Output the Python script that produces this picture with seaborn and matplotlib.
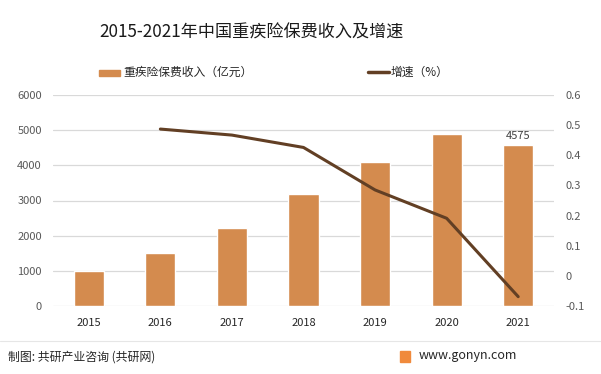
import numpy as np
import pandas as pd
import matplotlib.pyplot as plt
import seaborn as sns

years = ["2015", "2016", "2017", "2018", "2019", "2020", "2021"]
premium = [1000, 1510, 2220, 3190, 4100, 4900, 4575]
growth_years = ["2016", "2017", "2018", "2019", "2020", "2021"]
growth = [0.487, 0.467, 0.426, 0.285, 0.191, -0.069]

bar_color = "#D48B4E"
line_color = "#623F24"
tick_color = "#595959"

sns.set_theme(style="white")
plt.rcParams["font.family"] = ["Noto Sans CJK SC", "DejaVu Sans"]

fig = plt.figure(figsize=(6.01, 3.74), dpi=100)
ax = fig.add_axes([53 / 601, 1 - 306 / 374, 501 / 601, 211 / 374])

df = pd.DataFrame({"year": years, "premium": premium})
sns.barplot(data=df, x="year", y="premium", color=bar_color, width=0.42,
            saturation=1, ax=ax, zorder=2)
ax.set_xlim(-0.5, len(years) - 0.5)
ax.set_ylim(0, 6000)
ax.set_yticks(np.arange(0, 6001, 1000))
ax.yaxis.grid(True, color="#D9D9D9", linewidth=0.9, zorder=0)
ax.set_axisbelow(True)
ax.set_xlabel("")
ax.set_ylabel("")
for s in ax.spines.values():
    s.set_visible(False)
ax.tick_params(axis="y", colors=tick_color, labelsize=8, length=0, pad=8)
ax.tick_params(axis="x", colors="#262626", labelsize=8, length=0, pad=9)

ax.text(years.index("2021"), premium[-1] + 130, f"{premium[-1]}",
        ha="center", va="bottom", fontsize=8, color="#404040")

ax2 = ax.twinx()
gpos = [years.index(y) for y in growth_years]
sns.lineplot(x=gpos, y=growth, color=line_color, linewidth=2.2, ax=ax2)
ax2.set_ylim(-0.1, 0.6)
ax2.set_yticks(np.round(np.arange(-0.1, 0.61, 0.1), 1))
ax2.set_yticklabels(["-0.1", "0", "0.1", "0.2", "0.3", "0.4", "0.5", "0.6"])
ax2.tick_params(axis="y", colors=tick_color, labelsize=8, length=0, pad=8)
ax2.set_xlim(-0.5, len(years) - 0.5)
for s in ax2.spines.values():
    s.set_visible(False)

fig.text(251 / 601, 1 - 33 / 374, "2015-2021年中国重疾险保费收入及增速",
         ha="center", va="center", fontsize=12.3, color="#1A1A1A")

# legend
fig.patches.append(plt.Rectangle((99 / 601, 1 - 76 / 374), 21 / 601, 6 / 374,
                                 transform=fig.transFigure, color=bar_color))
fig.text(123 / 601, 1 - 72 / 374, "重疾险保费收入（亿元）", ha="left", va="center",
         fontsize=8.5, color="#262626")
fig.add_artist(plt.Line2D([368 / 601, 389 / 601], [1 - 72 / 374, 1 - 72 / 374],
                          color=line_color, linewidth=2.5, transform=fig.transFigure))
fig.text(391 / 601, 1 - 72 / 374, "增速（%）", ha="left", va="center",
         fontsize=8.5, color="#262626")

# footer
fig.add_artist(plt.Line2D([0, 1], [1 - 341 / 374, 1 - 341 / 374],
                          color="#E6E6E6", linewidth=0.8, transform=fig.transFigure))
fig.text(8 / 601, 1 - 357 / 374, "制图: 共研产业咨询 (共研网)", ha="left", va="center",
         fontsize=8.6, color="#262626")
fig.patches.append(plt.Rectangle((400 / 601, 1 - 362 / 374), 10 / 601, 11 / 374,
                                 transform=fig.transFigure, color="#F08A3C"))
fig.text(419 / 601, 1 - 356 / 374, "www.gonyn.com", ha="left", va="center",
         fontsize=9, color="#262626")

fig.savefig("out.png", dpi=100)
